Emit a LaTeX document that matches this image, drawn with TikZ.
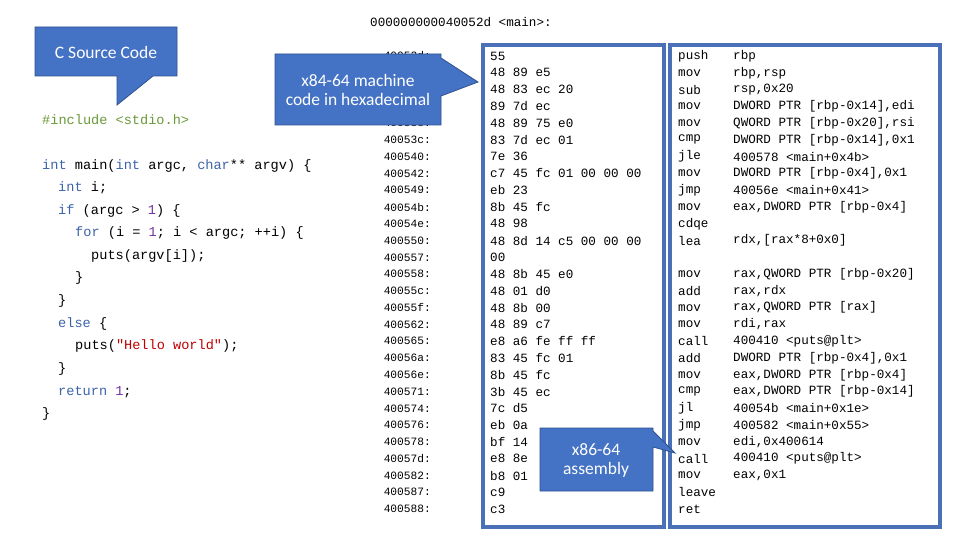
\documentclass[tikz,border=0pt]{standalone}
\usepackage{fontspec}
\setmainfont{Carlito}
\setmonofont{Liberation Mono}
\begin{document}
\begin{tikzpicture}[x=1pt,y=-1pt,
  code/.style={anchor=west,inner sep=0pt,font=\ttfamily\fontsize{13.6}{13}\selectfont},
  lst/.style={anchor=west,inner sep=0pt,font=\ttfamily\fontsize{12.6}{12}\selectfont},
  addr/.style={anchor=east,inner sep=0pt,font=\ttfamily\fontsize{11.2}{12}\selectfont},
  frame/.style={draw=boxblue,line width=3.5pt},
  callout/.style={fill=calblue,draw=calborder,line width=0.8pt},
  ctext/.style={text=white,font=\fontsize{17.5}{20}\selectfont,align=center}]
\definecolor{boxblue}{HTML}{4A70B8}
\definecolor{calblue}{HTML}{4472C4}
\definecolor{calborder}{HTML}{2F528F}
\definecolor{kw}{HTML}{3C64A8}
\definecolor{num}{HTML}{7030A0}
\definecolor{str}{HTML}{C00000}
\definecolor{inc}{HTML}{6A9A3A}
\useasboundingbox (0,0) rectangle (960,540);
\fill[white] (0,0) rectangle (960,540);
% C source
\node[code,text=inc] (c0) at (42,120) {\#include <stdio.h>};
\node[code] (c1) at (42,166) {\textcolor{kw}{int} main(\textcolor{kw}{int} argc, \textcolor{kw}{char}** argv) \{};
\node[code] (c2) at (58,188) {\textcolor{kw}{int} i;};
\node[code] (c3) at (58,211) {\textcolor{kw}{if} (argc > \textcolor{num}{1}) \{};
\node[code] (c4) at (75,233) {\textcolor{kw}{for} (i = \textcolor{num}{1}; i < argc; ++i) \{};
\node[code] (c5) at (91,256) {puts(argv[i]);};
\node[code] (c6) at (75,278) {\}};
\node[code] (c7) at (58,301) {\}};
\node[code] (c8) at (58,324) {\textcolor{kw}{else} \{};
\node[code] (c9) at (75,346) {puts(\textcolor{str}{"Hello world"});};
\node[code] (c10) at (58,369) {\}};
\node[code] (c11) at (58,392) {\textcolor{kw}{return} \textcolor{num}{1};};
\node[code] (c12) at (42,414) {\}};
% header
\node[lst] (hdr) at (370,22) {000000000040052d <main>:};
% frames
\draw[frame] (483,45) rectangle (664,527);
\draw[frame] (670,45) rectangle (940,527);
% rows
\foreach \a/\b/\m/\o [count=\i from 0] in {
40052d:/55/push/rbp,
40052e:/48 89 e5/mov/{rbp,rsp},
400531:/48 83 ec 20/sub/{rsp,0x20},
400535:/89 7d ec/mov/{DWORD PTR [rbp-0x14],edi},
400538:/48 89 75 e0/mov/{QWORD PTR [rbp-0x20],rsi},
40053c:/83 7d ec 01/cmp/{DWORD PTR [rbp-0x14],0x1},
400540:/7e 36/jle/{400578 <main+0x4b>},
400542:/c7 45 fc 01 00 00 00/mov/{DWORD PTR [rbp-0x4],0x1},
400549:/eb 23/jmp/{40056e <main+0x41>},
40054b:/8b 45 fc/mov/{eax,DWORD PTR [rbp-0x4]},
40054e:/48 98/cdqe/{},
400550:/48 8d 14 c5 00 00 00/lea/{rdx,[rax*8+0x0]},
400557:/00/{}/{},
400558:/48 8b 45 e0/mov/{rax,QWORD PTR [rbp-0x20]},
40055c:/48 01 d0/add/{rax,rdx},
40055f:/48 8b 00/mov/{rax,QWORD PTR [rax]},
400562:/48 89 c7/mov/{rdi,rax},
400565:/e8 a6 fe ff ff/call/{400410 <puts@plt>},
40056a:/83 45 fc 01/add/{DWORD PTR [rbp-0x4],0x1},
40056e:/8b 45 fc/mov/{eax,DWORD PTR [rbp-0x4]},
400571:/3b 45 ec/cmp/{eax,DWORD PTR [rbp-0x14]},
400574:/7c d5/jl/{40054b <main+0x1e>},
400576:/eb 0a/jmp/{400582 <main+0x55>},
400578:/bf 14/mov/{edi,0x400614},
40057d:/e8 8e/call/{400410 <puts@plt>},
400582:/b8 01/mov/{eax,0x1},
400587:/c9/leave/{},
400588:/c3/ret/{}}{
  \pgfmathsetmacro\yy{56+16.78*\i}
  \node[addr] (a\i) at (431,\yy) {\a};
  \node[lst] (b\i) at (490,\yy) {\b};
  \node[lst] (m\i) at (678,\yy) {\m};
  \node[lst] (o\i) at (733,\yy) {\o};
}
% callouts
\draw[callout] (35,27) -- (177,27) -- (177,76) -- (153,76) -- (117,105) -- (117,76) -- (35,76) -- cycle;
\node[ctext] (t1) at (106,52) {C Source Code};
\draw[callout] (275,54) -- (441,54) -- (441,58) -- (478,82) -- (441,96) -- (441,125) -- (275,125) -- cycle;
\node[ctext] (t2) at (358,90) {x84-64 machine\\[-1pt]code in hexadecimal};
\draw[callout] (540,428) -- (653,428) -- (653,431) -- (675,453) -- (653,447) -- (653,491) -- (540,491) -- cycle;
\node[ctext] (t3) at (596,460) {x86-64\\[-1pt]assembly};
\end{tikzpicture}
\end{document}
